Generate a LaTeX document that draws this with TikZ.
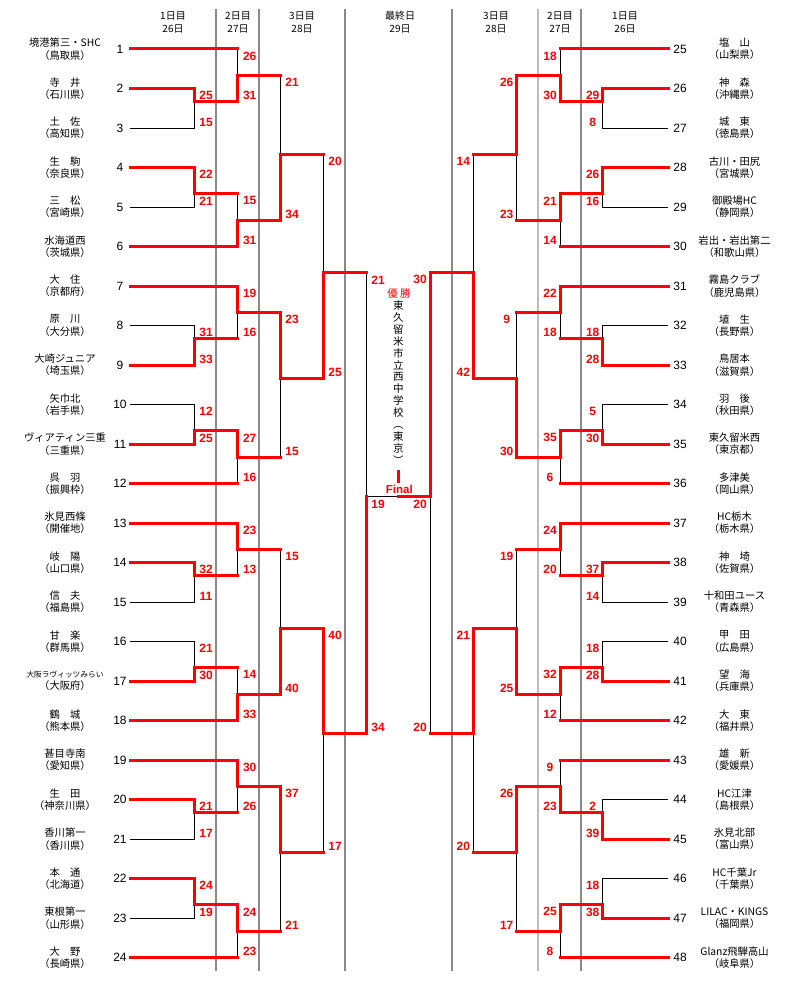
\documentclass[tikz,border=0pt]{standalone}
\usepackage{fontspec}
\setmainfont{Noto Sans CJK JP}
\newfontfamily\numfont{Liberation Sans}

\definecolor{wred}{HTML}{FF0000}
\definecolor{dgray}{HTML}{8A8A8A}
\definecolor{lgray}{HTML}{BDBDBD}

\pgfdeclarelayer{bg}
\pgfsetlayers{bg,main}

\tikzset{
  adv/.style={wred, line width=3pt, line cap=rect},
  lost/.style={black, line width=0.8pt},
  dayline/.style={dgray, line width=1.3pt},
  pts/.style={text=wred, inner sep=0pt, font=\numfont\bfseries\fontsize{12}{12}\selectfont},
  tno/.style={inner sep=0pt, font=\numfont\fontsize{12}{12}\selectfont},
  tname/.style={align=center, inner sep=0pt, font=\fontsize{10.3}{12.3}\selectfont},
  hdr/.style={align=center, inner sep=0pt, font=\fontsize{10}{13}\selectfont},
}

\def\lbx{12}
\newcommand\smallnm[1]{{\fontsize{7.7}{9}\selectfont #1}}

% first round: the loser's line stays black
\newcommand\firstbout[6]{%
  \ifnum#4=1 \def\wsrc{#2}\def\lsrc{#3}\else\def\wsrc{#3}\def\lsrc{#2}\fi
  \begin{pgfonlayer}{bg}\draw[lost] (\lsrc) -| (#1);\end{pgfonlayer}
  \draw[adv] (\wsrc) -| (#1);
  \node[pts, xshift=\lbx, yshift=-7] at (#2 -| #1) {#5};
  \node[pts, xshift=\lbx, yshift=6] at (#3 -| #1) {#6};
}
% later rounds
\newcommand\bout[6]{%
  \ifnum#4=1 \def\wsrc{#2}\def\lsrc{#3}\else\def\wsrc{#3}\def\lsrc{#2}\fi
  \begin{pgfonlayer}{bg}\draw[lost] (\lsrc -| #1) -- (#1);\end{pgfonlayer}
  \draw[adv] (\lsrc) -- (\lsrc -| #1);
  \draw[adv] (\wsrc) -| (#1);
  \node[pts, xshift=\lbx, yshift=-7] at (#2 -| #1) {#5};
  \node[pts, xshift=\lbx, yshift=6] at (#3 -| #1) {#6};
}

\begin{document}
\begin{tikzpicture}[x=1pt, y=-1pt]
\useasboundingbox (0,0) rectangle (800,992);
\begin{pgfonlayer}{bg}
  \fill[white] (0,0) rectangle (800,992);
  \foreach \x in {216,259,345,452,581} \draw[dayline] (\x,9) -- (\x,971);
  \draw[dayline, lgray] (538,9) -- (538,971);
\end{pgfonlayer}

% day headers
\node[hdr] (h1) at (173,22.5) {1日目\\26日};
\node[hdr] (h2) at (238,22.5) {2日目\\27日};
\node[hdr] (h3) at (302,22.5) {3日目\\28日};
\node[hdr] (h4) at (400,22.5) {最終日\\29日};
\node[hdr] (h5) at (496,22.5) {3日目\\28日};
\node[hdr] (h6) at (560,22.5) {2日目\\27日};
\node[hdr] (h7) at (625,22.5) {1日目\\26日};

% teams, left
\foreach \i/\club/\pref in {1/境港第三・SHC/鳥取県, 2/寺　井/石川県, 3/土　佐/高知県,
  4/生　駒/奈良県, 5/三　松/宮崎県, 6/水海道西/茨城県, 7/大　住/京都府,
  8/原　川/大分県, 9/大崎ジュニア/埼玉県, 10/矢巾北/岩手県,
  11/ヴィアティン三重/三重県, 12/呉　羽/振興枠, 13/氷見西條/開催地,
  14/岐　陽/山口県, 15/信　夫/福島県, 16/甘　楽/群馬県,
  17/\smallnm{大阪ラヴィッツみらい}/大阪府, 18/鶴　城/熊本県,
  19/甚目寺南/愛知県, 20/生　田/神奈川県, 21/香川第一/香川県,
  22/本　通/北海道, 23/東根第一/山形県, 24/大　野/長崎県} {
  \pgfmathsetmacro\yy{49+39.5*(\i-1)}
  \coordinate (t\i) at (130,\yy);
  \node[tno] (n\i) at (120,\yy) {\i};
  \node[tname] (nm\i) at (65,\yy) {\club\\（\pref）};
}
% teams, right
\foreach \i/\club/\pref in {25/塩　山/山梨県, 26/神　森/沖縄県, 27/城　東/徳島県,
  28/古川・田尻/宮城県, 29/御殿場HC/静岡県, 30/岩出・岩出第二/和歌山県,
  31/霧島クラブ/鹿児島県, 32/埴　生/長野県, 33/鳥居本/滋賀県,
  34/羽　後/秋田県, 35/東久留米西/東京都, 36/多津美/岡山県,
  37/HC栃木/栃木県, 38/神　埼/佐賀県, 39/十和田ユース/青森県,
  40/甲　田/広島県, 41/望　海/兵庫県, 42/大　東/福井県,
  43/雄　新/愛媛県, 44/HC江津/島根県, 45/氷見北部/富山県,
  46/HC千葉Jr/千葉県, 47/LILAC・KINGS/福岡県, 48/Glanz飛騨高山/岐阜県} {
  \pgfmathsetmacro\yy{49+39.5*(\i-25)}
  \coordinate (t\i) at (668,\yy);
  \node[tno] (n\i) at (680,\yy) {\i};
  \node[tname] (nm\i) at (734.5,\yy) {\club\\（\pref）};
}

% junctions
\foreach \s/\xa/\xb/\xc in {l/194/237.7/280, r/602.7/560/516.7} {
  \foreach \b/\o/\e in {1/0/2.6667, 2/6/8.3333, 3/12/14.6667, 4/18/20.3333} {
    \coordinate (\s\b a) at (\xa,{49+39.5*(\o+4/3)});
    \coordinate (\s\b b) at (\xb,{49+39.5*(\o+2/3)});
    \coordinate (\s\b c) at (\xa,{49+39.5*(\o+11/3)});
    \coordinate (\s\b d) at (\xb,{49+39.5*(\o+13/3)});
    \coordinate (\s\b e) at (\xc,{49+39.5*\e});
  }
}
\coordinate (lU) at (323,{49+39.5*17/3});
\coordinate (lD) at (323,{49+39.5*52/3});
\coordinate (lF) at (366,{49+39.5*34/3});
\coordinate (rU) at (473.3,{49+39.5*17/3});
\coordinate (rD) at (473.3,{49+39.5*52/3});
\coordinate (rF) at (430,{49+39.5*34/3});
\coordinate (fin) at (398.3,{49+39.5*34/3});

% left half
\firstbout{l1a}{t2}{t3}{1}{25}{15}
\bout{l1b}{t1}{l1a}{2}{26}{31}
\firstbout{l1c}{t4}{t5}{1}{22}{21}
\bout{l1d}{l1c}{t6}{2}{15}{31}
\bout{l1e}{l1b}{l1d}{2}{21}{34}
\firstbout{l2a}{t8}{t9}{2}{31}{33}
\bout{l2b}{t7}{l2a}{1}{19}{16}
\firstbout{l2c}{t10}{t11}{2}{12}{25}
\bout{l2d}{l2c}{t12}{1}{27}{16}
\bout{l2e}{l2b}{l2d}{1}{23}{15}
\bout{lU}{l1e}{l2e}{2}{20}{25}
\firstbout{l3a}{t14}{t15}{1}{32}{11}
\bout{l3b}{t13}{l3a}{1}{23}{13}
\firstbout{l3c}{t16}{t17}{2}{21}{30}
\bout{l3d}{l3c}{t18}{2}{14}{33}
\bout{l3e}{l3b}{l3d}{2}{15}{40}
\firstbout{l4a}{t20}{t21}{1}{21}{17}
\bout{l4b}{t19}{l4a}{1}{30}{26}
\firstbout{l4c}{t22}{t23}{1}{24}{19}
\bout{l4d}{l4c}{t24}{1}{24}{23}
\bout{l4e}{l4b}{l4d}{1}{37}{21}
\bout{lD}{l3e}{l4e}{1}{40}{17}
\bout{lF}{lU}{lD}{2}{21}{34}

% right half
\def\lbx{-10}
\firstbout{r1a}{t26}{t27}{1}{29}{8}
\bout{r1b}{t25}{r1a}{2}{18}{30}
\firstbout{r1c}{t28}{t29}{1}{26}{16}
\bout{r1d}{r1c}{t30}{1}{21}{14}
\bout{r1e}{r1b}{r1d}{1}{26}{23}
\firstbout{r2a}{t32}{t33}{2}{18}{28}
\bout{r2b}{t31}{r2a}{1}{22}{18}
\firstbout{r2c}{t34}{t35}{2}{5}{30}
\bout{r2d}{r2c}{t36}{1}{35}{6}
\bout{r2e}{r2b}{r2d}{2}{9}{30}
\bout{rU}{r1e}{r2e}{2}{14}{42}
\firstbout{r3a}{t38}{t39}{1}{37}{14}
\bout{r3b}{t37}{r3a}{1}{24}{20}
\firstbout{r3c}{t40}{t41}{2}{18}{28}
\bout{r3d}{r3c}{t42}{1}{32}{12}
\bout{r3e}{r3b}{r3d}{2}{19}{25}
\firstbout{r4a}{t44}{t45}{2}{2}{39}
\bout{r4b}{t43}{r4a}{2}{9}{23}
\firstbout{r4c}{t46}{t47}{2}{18}{38}
\bout{r4d}{r4c}{t48}{1}{25}{8}
\bout{r4e}{r4b}{r4d}{1}{26}{17}
\bout{rD}{r3e}{r4e}{1}{21}{20}
\bout{rF}{rU}{rD}{1}{30}{20}

% final
\begin{pgfonlayer}{bg}\draw[lost] (lF) -- (rF);\end{pgfonlayer}
\draw[adv] (rF) -- (fin);
\draw[adv] ([yshift=15.3]fin) -- ([yshift=25.5]fin);
\node[pts, xshift=12, yshift=-7.5] (sf1) at (lF) {19};
\node[pts, xshift=-10, yshift=-7.5] (sf2) at (rF) {20};
\node[text=wred, inner sep=0pt, font=\numfont\bfseries\fontsize{11.5}{11.5}\selectfont] (fnl) at ([xshift=1, yshift=7]fin) {Final};
\node[text=wred, inner sep=0pt, font=\fontsize{10.5}{10.5}\selectfont] (champ) at (399,293.5) {優 勝};
\node[align=center, inner sep=0pt, font=\fontsize{10.5}{11.9}\selectfont] (winner) at (398.3,382.5)
  {東\\久\\留\\米\\市\\立\\西\\中\\学\\校\\︵\\東\\京\\︶};
\end{tikzpicture}
\end{document}
